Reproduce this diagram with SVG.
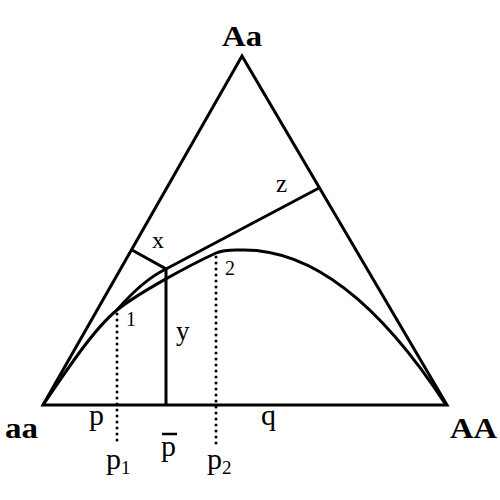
<svg xmlns="http://www.w3.org/2000/svg" width="500" height="500" viewBox="0 0 500 500">
<style>
.ln{fill:none;stroke:#000;stroke-width:3;stroke-linejoin:miter}
.dot{fill:none;stroke:#000;stroke-width:3;stroke-linecap:round;stroke-dasharray:0 6}
.t{font-family:"Liberation Serif","Times New Roman",serif;fill:#000}
.b{font-weight:bold;font-size:30px}
.m{font-size:30px}
</style>
<rect width="500" height="500" fill="#fff"/>
<g id="connectors">
<path class="ln" d="M43,405 L242,56 L447,405 Z"/>
<path class="ln" d="M43,405 C70,365 95,328 117,310 C140,292 188,266 216,253 C225,249 233,250 244,250 Q345,250 446,405"/>
<path class="ln" d="M117,310 Q143,280 166,269 L319,188"/>
<path class="ln" d="M132,250 L166,269 L166,405"/>
<path class="dot" d="M117,314 L117,446"/>
<path class="dot" d="M216,257 L216,446"/>
</g>
<g id="node-Aa"><text class="t b" x="222" y="46" textLength="40" lengthAdjust="spacingAndGlyphs">Aa</text></g>
<g id="node-aa"><text class="t b" x="5" y="438" textLength="33" lengthAdjust="spacingAndGlyphs">aa</text></g>
<g id="node-AA"><text class="t b" x="450" y="438" textLength="47" lengthAdjust="spacingAndGlyphs">AA</text></g>
<g id="labels">
<text class="t m" x="89" y="425">p</text>
<text class="t m" x="261" y="425">q</text>
<text class="t m" x="161" y="456">p</text>
<line x1="162" y1="434" x2="177" y2="434" stroke="#000" stroke-width="2.5"/>
<text class="t m" x="106" y="469">p<tspan font-size="19" dy="5">1</tspan></text>
<text class="t m" x="207" y="469">p<tspan font-size="19" dy="5">2</tspan></text>
<text class="t" font-size="24" x="152" y="248">x</text>
<text class="t" font-size="27" x="176" y="340">y</text>
<text class="t" font-size="25" x="276" y="192">z</text>
<text class="t" font-size="20" x="126" y="326">1</text>
<text class="t" font-size="20" x="225" y="275">2</text>
</g>
</svg>
